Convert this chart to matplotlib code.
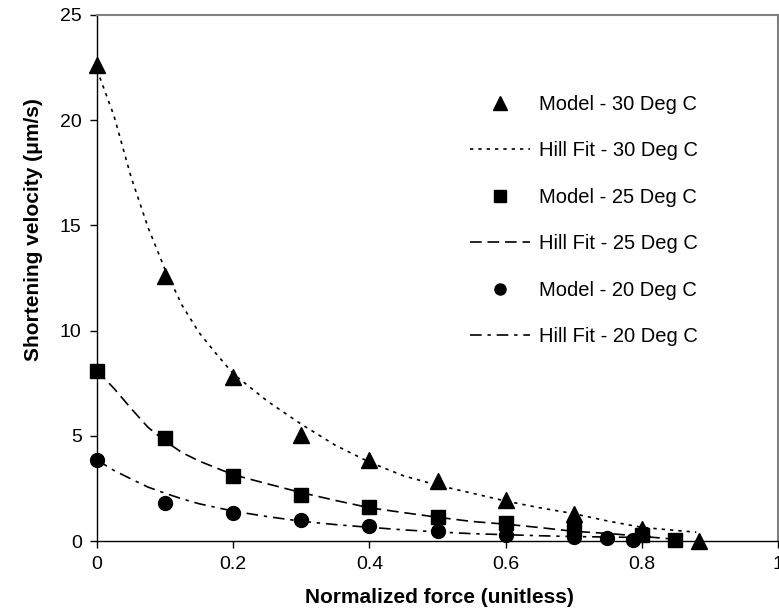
import matplotlib
matplotlib.use("Agg")
import matplotlib.pyplot as plt

plt.rcParams["font.family"] = ["Liberation Sans", "DejaVu Sans"]

# model points
x_30 = [0.0, 0.1, 0.2, 0.3, 0.4, 0.5, 0.6, 0.7, 0.8, 0.884]
v_30 = [22.6, 12.6, 7.8, 5.05, 3.85, 2.85, 1.95, 1.3, 0.55, 0.0]
x_25 = [0.0, 0.1, 0.2, 0.3, 0.4, 0.5, 0.6, 0.7, 0.8, 0.849]
v_25 = [8.1, 4.9, 3.1, 2.2, 1.6, 1.15, 0.85, 0.55, 0.28, 0.05]
x_20 = [0.0, 0.1, 0.2, 0.3, 0.4, 0.5, 0.6, 0.7, 0.749, 0.787]
v_20 = [3.85, 1.82, 1.33, 1.0, 0.72, 0.48, 0.3, 0.2, 0.13, 0.05]

# Hill fit curves
fit_x_30 = [0, 0.025, 0.05, 0.075, 0.1, 0.125, 0.15, 0.175, 0.2, 0.25, 0.3,
            0.35, 0.4, 0.45, 0.5, 0.55, 0.6, 0.65, 0.7, 0.75, 0.8, 0.85, 0.88]
fit_v_30 = [22.4, 20.2, 17.3, 14.9, 12.9, 11.2, 9.9, 8.9, 7.95, 6.65, 5.55,
            4.55, 3.75, 3.1, 2.65, 2.28, 1.9, 1.58, 1.3, 0.95, 0.65, 0.5, 0.42]
fit_x_25 = [0, 0.025, 0.05, 0.075, 0.1, 0.125, 0.15, 0.2, 0.25, 0.3, 0.35,
            0.4, 0.45, 0.5, 0.55, 0.6, 0.65, 0.7, 0.75, 0.8, 0.85]
fit_v_25 = [8.1, 7.25, 6.3, 5.4, 4.75, 4.2, 3.8, 3.15, 2.72, 2.3, 1.93,
            1.58, 1.35, 1.13, 0.93, 0.8, 0.64, 0.46, 0.36, 0.22, 0.08]
fit_x_20 = [0, 0.025, 0.05, 0.075, 0.1, 0.125, 0.15, 0.2, 0.25, 0.3, 0.35,
            0.4, 0.45, 0.5, 0.55, 0.6, 0.65, 0.7, 0.75, 0.79]
fit_v_20 = [3.85, 3.35, 2.95, 2.56, 2.27, 2.0, 1.77, 1.42, 1.16, 0.94, 0.78,
            0.65, 0.53, 0.43, 0.35, 0.3, 0.25, 0.21, 0.19, 0.17]

x_ticks = [0, 0.2, 0.4, 0.6, 0.8, 1]
x_tick_labels = ["0", "0.2", "0.4", "0.6", "0.8", "1"]
y_ticks = [0, 5, 10, 15, 20, 25]

fig = plt.figure(figsize=(7.79, 6.14), dpi=100)
ax = fig.add_axes([97 / 779, 1 - 541 / 614, (778 - 97) / 779, (541 - 15) / 614])

lw = 1.2
ax.plot(x_30, v_30, "^", color="black", ms=12, clip_on=False, label="Model - 30 Deg C")
ax.plot(fit_x_30, fit_v_30, color="black", lw=lw, dashes=(2, 3), label="Hill Fit - 30 Deg C")
ax.plot(x_25, v_25, "s", color="black", ms=10, clip_on=False, label="Model - 25 Deg C")
ax.plot(fit_x_25, fit_v_25, color="black", lw=lw, dashes=(7, 3.5), label="Hill Fit - 25 Deg C")
ax.plot(x_20, v_20, "o", color="black", ms=10, clip_on=False, label="Model - 20 Deg C")
ax.plot(fit_x_20, fit_v_20, color="black", lw=lw, dashes=(7, 3.5, 2, 3.5), label="Hill Fit - 20 Deg C")

ax.set_xlim(0, 1)
ax.set_ylim(0, 25)
ax.set_xticks(x_ticks)
ax.set_xticklabels(x_tick_labels)
ax.set_yticks(y_ticks)
ax.tick_params(axis="both", direction="out", length=5, width=1, labelsize=14, pad=6)

for side in ["top", "right"]:
    ax.spines[side].set_color("#808080")
    ax.spines[side].set_linewidth(1.5)
for side in ["left", "bottom"]:
    ax.spines[side].set_color("black")
    ax.spines[side].set_linewidth(1)

ax.set_xlabel("Normalized force (unitless)", fontsize=15, fontweight="bold")
ax.xaxis.set_label_coords((439 - 97) / (778 - 97), -0.09)
ax.set_ylabel("Shortening velocity (\u03bcm/s)", fontsize=15, fontweight="bold")
ax.yaxis.set_label_coords(-0.08, (541 - 230) / (541 - 15))

ax.legend(loc="upper left", bbox_to_anchor=(470 / 779, 1 - 95 / 614),
          bbox_transform=fig.transFigure, frameon=False, fontsize=14.5,
          handlelength=3.0, handletextpad=0.45, labelspacing=1.36, borderpad=0,
          borderaxespad=0, markerscale=0.8)

fig.savefig("out.png", dpi=100)
